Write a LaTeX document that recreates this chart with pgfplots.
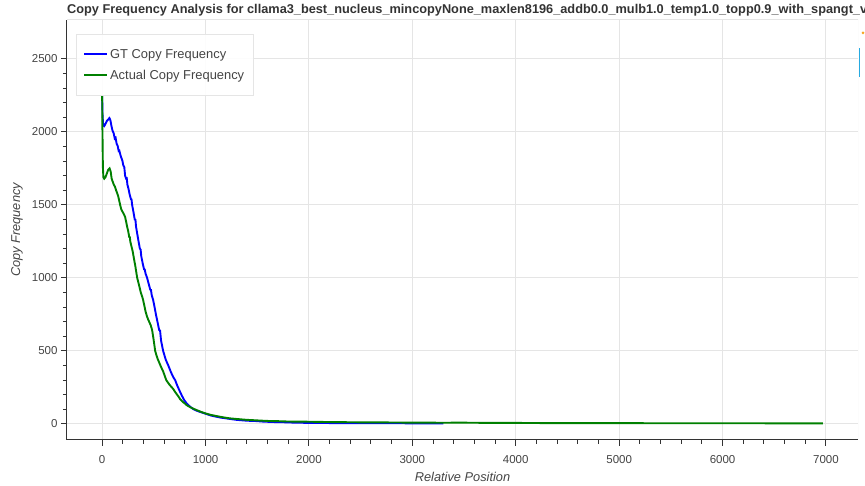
\documentclass[border=0pt]{standalone}
\usepackage{pgfplots}
\pgfplotsset{compat=1.18}
\usepackage{pgfplotstable}
\usepackage{fontspec}
\setmainfont{Liberation Sans}

\definecolor{labgray}{HTML}{444444}
\definecolor{gridc}{HTML}{E5E5E5}
\definecolor{axisc}{HTML}{333333}
\definecolor{gtblue}{HTML}{0000FF}
\definecolor{actgreen}{HTML}{008000}
\definecolor{tbblue}{HTML}{26AAE1}
\definecolor{tborange}{HTML}{F6A623}

% ground-truth copy frequency by relative position
\pgfplotstableread{
x y
0 2250
4 2110
10 2045
20 2040
32 2055
45 2075
58 2085
70 2095
80 2080
90 2040
100 2010
112 1990
122 1955
130 1960
140 1920
150 1905
160 1870
166 1872
172 1855
182 1830
195 1805
205 1770
214 1760
222 1700
232 1680
238 1682
244 1640
255 1610
265 1575
278 1540
284 1538
290 1500
302 1455
315 1400
322 1398
328 1350
340 1300
352 1250
365 1200
372 1195
378 1150
392 1100
405 1060
412 1058
420 1030
435 1000
450 960
465 920
472 918
480 880
493 850
507 800
520 750
535 700
551 644
560 640
570 570
590 500
615 440
640 400
665 355
688 320
706 300
725 265
745 233
770 195
793 164
820 138
851 118
880 102
910 92
948 82
1000 70
1050 58
1100 50
1150 43
1200 38
1238 34
1300 28
1350 25
1400 22
1480 20
1557 16
1620 14
1700 12
1780 11
1850 9
1930 8
2011 7
2100 7
2200 6
2350 6
2500 5
2650 5
2800 5
3000 4
3150 4
3300 4
}\gtdata

% actual copy frequency by relative position
\pgfplotstableread{
x y
0 2250
3 2000
7 1760
12 1690
20 1680
32 1690
45 1715
58 1740
72 1750
82 1730
92 1680
102 1660
112 1640
124 1625
135 1600
145 1582
155 1560
165 1530
174 1500
185 1470
196 1455
208 1440
222 1418
232 1385
242 1350
252 1320
262 1280
268 1278
272 1250
284 1215
296 1180
308 1130
320 1085
330 1040
339 1000
350 970
362 935
374 900
386 875
396 850
408 810
420 770
432 740
445 715
458 695
470 675
483 644
495 590
505 540
513 500
525 470
540 440
555 415
570 390
590 360
605 330
620 300
635 285
650 270
668 255
687 240
705 220
720 205
738 188
754 170
770 158
785 148
800 140
815 130
830 123
851 115
880 105
910 96
948 85
975 78
1000 72
1050 62
1100 55
1150 48
1200 42
1238 38
1300 34
1350 31
1400 28
1480 25
1557 22
1620 20
1700 19
1780 17
1850 16
1930 16
2011 15
2100 14
2200 13
2350 12
2500 11
2650 11
2800 10
3000 9
3150 9
3300 8
3450 9
3600 8
3800 7
4000 7
4250 6
4500 6
4750 6
5000 6
5250 5
5500 5
5750 5
6000 5
6250 5
6500 4
6750 4
6970 4
}\actdata

\begin{document}
\begin{tikzpicture}
\useasboundingbox (0pt,0pt) rectangle (865pt,486pt);
\begin{axis}[
  at={(67pt,46pt)}, anchor=south west,
  scale only axis, width=791pt, height=420pt,
  xmin=-340, xmax=7310, ymin=-110, ymax=2767,
  xtick={0,1000,...,7000}, ytick={0,500,...,2500},
  minor x tick num=4, minor y tick num=4,
  axis lines=left, axis line style={-, axisc, line width=1pt},
  tick align=outside, major tick length=6pt, minor tick length=4pt,
  tick style={axisc, line width=1pt},
  grid=major, major grid style={gridc, line width=1pt},
  /pgf/number format/assume math mode=true,
  /pgf/number format/set thousands separator={},
  ticklabel style={font=\fontsize{11.5}{13}\selectfont, text=labgray},
  xticklabel style={yshift=-6pt},
  xlabel={Relative Position}, ylabel={Copy Frequency},
  label style={font=\fontsize{12.8}{15}\selectfont\itshape, text=labgray},
  x label style={at={(axis description cs:0.5,0)}, anchor=center, yshift=-37pt},
  y label style={at={(axis description cs:-0.0632,0.5)}, anchor=center},
  legend style={at={(0.0114,0.9667)}, anchor=north west,
    draw=gridc, fill=white, fill opacity=0.9, text opacity=1,
    font=\fontsize{12.9}{15}\selectfont, text=labgray,
    inner xsep=7pt, inner ysep=13pt, row sep=6pt},
  legend cell align=left,
  legend image code/.code={\draw[#1] (0pt,0pt) -- (18pt,0pt); \path (0pt,0pt) -- (23pt,0pt);},
]
\draw[gridc, line width=1pt] (rel axis cs:0,1) -- (rel axis cs:1,1) -- (rel axis cs:1,0);
\addplot[gtblue, line width=1.9pt] table {\gtdata};
\addlegendentry{GT Copy Frequency}
\addplot[actgreen, line width=1.9pt] table {\actdata};
\addlegendentry{Actual Copy Frequency}
\end{axis}
% plot title
\node[anchor=base west, font=\bfseries\fontsize{12.75}{15}\selectfont, text=axisc, inner sep=0pt]
  at (67pt,472pt) {Copy Frequency Analysis for cllama3\_best\_nucleus\_mincopyNone\_maxlen8196\_addb0.0\_mulb1.0\_temp1.0\_topp0.9\_with\_spangt\_vs};
% toolbar edge
\fill[tborange] (863pt,453pt) circle (1.5pt);
\draw[tbblue, line width=1.2pt] (859.5pt,409pt) -- (859.5pt,438pt);
\end{tikzpicture}
\end{document}
